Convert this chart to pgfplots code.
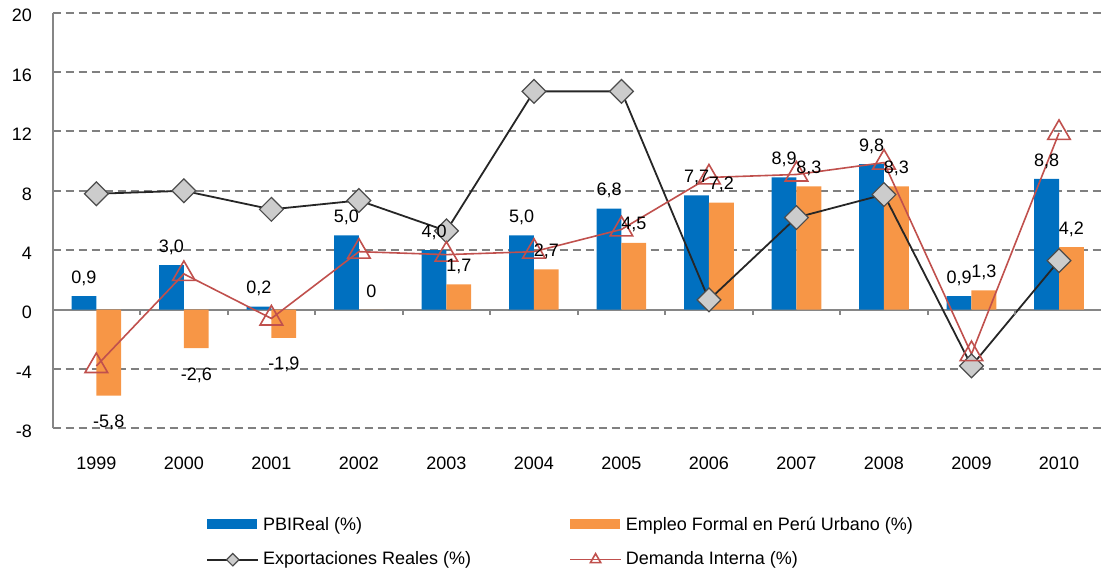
\documentclass[border=0pt]{standalone}
\usepackage{pgfplots}
\pgfplotsset{compat=1.18}
\usepackage{pgfplotstable}
\usepackage{fontspec}
\setmainfont{Liberation Sans}
\definecolor{cblue}{HTML}{0070C0}
\definecolor{corange}{HTML}{F79646}
\definecolor{cred}{HTML}{C0504D}
\definecolor{cgrid}{HTML}{808080}
\definecolor{caxis}{HTML}{868686}

\pgfplotstableread{
x pbi lpbi emp lemp eo exp dem
0 0.9 0,9 -5.8 -5,8 -13.5 7.8 -3.8
1 3.0 3,0 -2.6 -2,6 -13.5 8.0 2.4
2 0.2 0,2 -1.9 -1,9 -13.5 6.75 -0.6
3 5.0 5,0 0.0 0 9 7.35 3.9
4 4.0 4,0 1.7 1,7 9 5.3 3.7
5 5.0 5,0 2.7 2,7 9 14.7 3.9
6 6.8 6,8 4.5 4,5 9 14.7 5.4
7 7.7 7,7 7.2 7,2 9 0.65 8.9
8 8.9 8,9 8.3 8,3 9 6.2 9.1
9 9.8 9,8 8.3 8,3 9 7.75 9.9
10 0.9 0,9 1.3 1,3 9 -3.8 -3.0
11 8.8 8,8 4.2 4,2 9 3.3 11.9
}\datatab

\newcommand{\lblfont}{\fontsize{9}{10.8}\selectfont}
\pgfplotsset{
  barleg/.style={legend image code/.code={\fill[##1] (0pt,-1.5pt) rectangle (25pt,3.5pt);}},
  lineleg/.style={legend image code/.code={\draw[mark repeat=2, mark phase=2, ##1, mark size=#1] plot coordinates {(0pt,0pt) (12.75pt,0pt) (25.5pt,0pt)};}},
}

\begin{document}
\begin{tikzpicture}
\begin{axis}[
  scale only axis, width=524.2pt, height=207.8pt,
  xmin=-0.5, xmax=11.48, ymin=-8, ymax=20,
  axis x line*=bottom, axis y line*=left,
  axis line style={-},
  x axis line style={draw=none},
  y axis line style={draw=caxis, line width=1pt},
  xtick={0,1,2,3,4,5,6,7,8,9,10,11},
  xticklabels={1999,2000,2001,2002,2003,2004,2005,2006,2007,2008,2009,2010},
  ytick={-8,-4,0,4,8,12,16,20},
  yticklabels={-8,-4,0,4,8,12,16,20},
  /pgf/number format/assume math mode=true,
  tick style={draw=none},
  ymajorgrids,
  major grid style={draw=cgrid, line width=1pt, dash pattern=on 4pt off 2.5pt},
  extra y ticks={0}, extra y tick labels={},
  extra y tick style={grid=major, major grid style={solid, draw=caxis, line width=1pt}},
  ticklabel style={font=\lblfont},
  xticklabel style={yshift=-11pt},
  yticklabel style={xshift=-6.8pt, yshift=-1.5pt},
  legend columns=2,
  legend cell align=left,
  legend style={at={(0.1463,-0.2038)}, anchor=north west, draw=none, fill=none,
    inner sep=0pt, font=\lblfont, row sep=5pt,
    /tikz/every even column/.append style={column sep=47pt}},
]
\addplot[ybar, bar width=12.4pt, bar shift=-6.2pt, fill=cblue, draw=none, barleg]
  table[x=x, y=pbi]{\datatab};
\addlegendentry{PBIReal (\%)}
\addplot[ybar, bar width=12.4pt, bar shift=6.2pt, fill=corange, draw=none, barleg]
  table[x=x, y=emp]{\datatab};
\addlegendentry{Empleo Formal en Perú Urbano (\%)}
\addplot[black!85, line width=0.9pt, mark=square*, mark size=4.2pt,
  mark options={rotate=45, fill=gray!40, draw=black!70, line width=0.6pt},
  lineleg=2.2pt]
  table[x=x, y=exp]{\datatab};
\addlegendentry{Exportaciones Reales (\%)}
\addplot[cred, line width=0.8pt, mark=triangle, mark size=6.5pt,
  mark options={solid, line width=0.8pt},
  lineleg=3pt]
  table[x=x, y=dem]{\datatab};
\addlegendentry{Demanda Interna (\%)}
% data labels on top
\addplot[draw=none, mark=none, forget plot,
  point meta=explicit symbolic, nodes near coords,
  every node near coord/.append style={font=\lblfont, anchor=center, xshift=-6.2pt, yshift=9pt, text=black}]
  table[x=x, y=pbi, meta=lpbi]{\datatab};
\addplot[draw=none, mark=none, forget plot,
  point meta=explicit symbolic, nodes near coords,
  visualization depends on={\thisrow{eo} \as \eoff},
  every node near coord/.append style={font=\lblfont, anchor=center, xshift=6.2pt, yshift=\eoff, text=black}]
  table[x=x, y=emp, meta=lemp]{\datatab};
\pgfplotsinvokeforeach{0,...,10}{\draw[caxis, line width=1pt] (axis cs:#1.5,0) -- ++(0pt,-2.5pt);}
\end{axis}
\pgfresetboundingbox
\path ([shift={(-26.3pt,-71.35pt)}]current axis.south west) rectangle ([shift={(0pt,6.35pt)}]current axis.north east);
\end{tikzpicture}
\end{document}
